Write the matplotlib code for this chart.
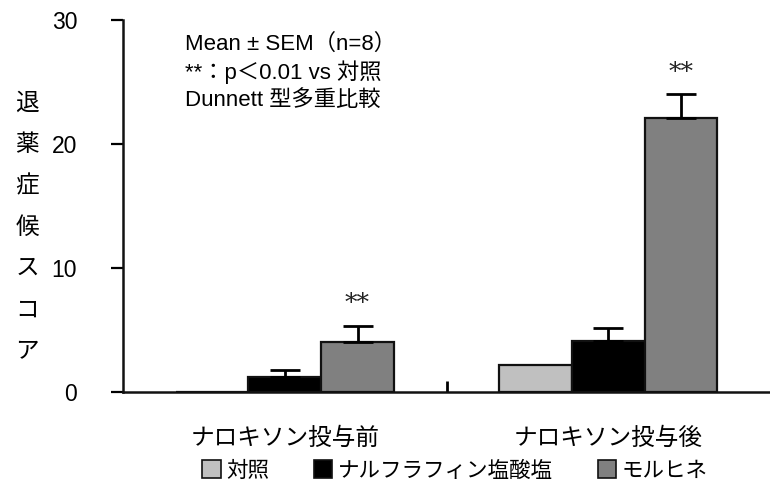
import matplotlib
matplotlib.use("Agg")
import matplotlib.pyplot as plt
from matplotlib.patches import Patch
import numpy as np

plt.rcParams['font.family'] = ['Liberation Sans', 'Noto Sans CJK JP', 'DejaVu Sans']

# data
groups = ["ナロキソン投与前", "ナロキソン投与後"]
series = ["対照", "ナルフラフィン塩酸塩", "モルヒネ"]
means = {
    "対照":            [0.0, 2.15],
    "ナルフラフィン塩酸塩": [1.15, 4.1],
    "モルヒネ":          [4.05, 22.1],
}
sems = {
    "対照":            [0.0, 0.0],
    "ナルフラフィン塩酸塩": [0.6, 1.05],
    "モルヒネ":          [1.25, 1.9],
}
colors = {"対照": "#c0c0c0", "ナルフラフィン塩酸塩": "#000000", "モルヒネ": "#808080"}
sig = {"モルヒネ": [True, True]}
ylabel = "退薬症候スコア"
note = ["Mean ± SEM（n=8）", "**：p＜0.01 vs 対照", "Dunnett 型多重比較"]

fig = plt.figure(figsize=(7.7, 4.92), dpi=100)
ax = fig.add_axes([123 / 770, 1 - 391.7 / 492, 1 - 123 / 770, (391.7 - 20) / 492])

width = 0.225
centers = np.arange(len(groups)) + 0.5
for k, s in enumerate(series):
    x = centers + (k - 1) * width
    m = np.array(means[s])
    e = np.array(sems[s])
    ax.bar(x, m, width, color=colors[s], edgecolor="#111111", linewidth=1.6, zorder=2)
    show = e > 0
    ax.errorbar(x[show], m[show], yerr=[np.zeros(show.sum()), e[show]], fmt="none",
                ecolor="black", elinewidth=2, capsize=11, capthick=2, zorder=3)
    for i, flag in enumerate(sig.get(s, [False] * len(groups))):
        if flag:
            ax.text(x[i], m[i] + e[i] + 1.8, "**", ha="center", va="center",
                    fontsize=18, color="#222222", family="DejaVu Serif")

ax.set_xlim(0, 2)
ax.set_ylim(0, 30)
ax.spines["top"].set_visible(False)
ax.spines["right"].set_visible(False)
for sp in ("left", "bottom"):
    ax.spines[sp].set_linewidth(1.8)
    ax.spines[sp].set_color("#111111")

ax.set_yticks([0, 10, 20, 30])
ax.tick_params(axis="y", direction="out", length=9, width=1.6, labelsize=16.5, pad=24)
ax.set_xticks([1])
ax.set_xticklabels([""])
ax.tick_params(axis="x", which="major", direction="in", length=8, width=2)
ax.set_xticks(centers, minor=True)
ax.set_xticklabels(groups, minor=True)
ax.tick_params(axis="x", which="minor", length=0, labelsize=17, pad=26)

# vertical stacked y label
for j, ch in enumerate(ylabel):
    fig.text(27 / 770, 1 - (104 + j * 41.3) / 492, ch, ha="center", va="center", fontsize=17)

for j, line in enumerate(note):
    fig.text(185 / 770, 1 - (44 + j * 28) / 492, line, ha="left", va="center", fontsize=16)

handles = [Patch(facecolor=colors[s], edgecolor="#111111", linewidth=1.2) for s in series]
fig.legend(handles, series, loc="center", bbox_to_anchor=(455 / 770, 1 - 471 / 492), ncol=3,
           frameon=False, fontsize=15.5, handlelength=0.85, handleheight=0.85,
           handletextpad=0.25, columnspacing=2.1)

fig.savefig("out.png", dpi=100)
